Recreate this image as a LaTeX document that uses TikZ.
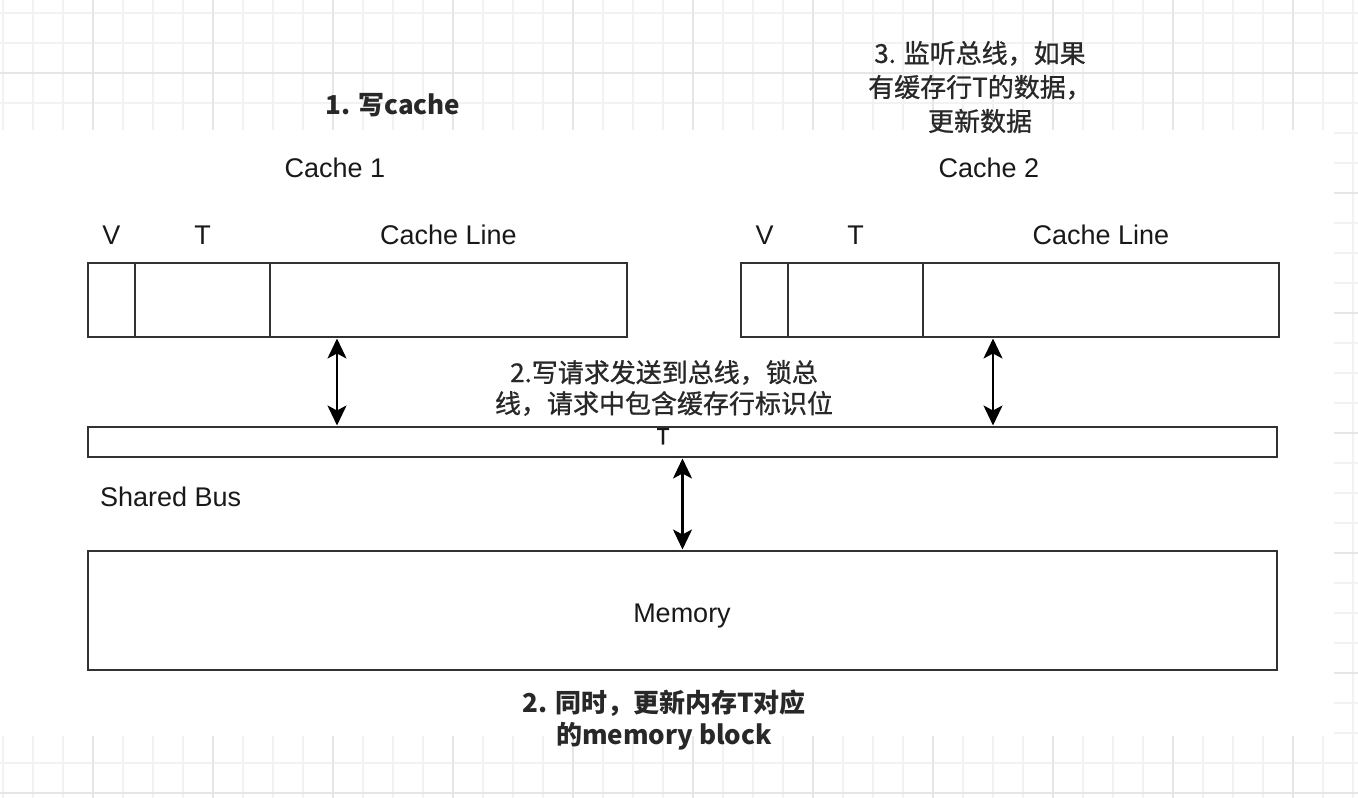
\documentclass[tikz,border=0pt]{standalone}
\usepackage{fontspec}
\setmainfont{Liberation Sans}
\newfontfamily\cjk{Noto Sans CJK SC}
\newfontfamily\cjkmed[FakeBold=0.9]{Noto Sans CJK SC}
\usetikzlibrary{arrows.meta,positioning,calc}
\definecolor{gridlt}{RGB}{242,242,242}
\definecolor{griddk}{RGB}{230,230,230}
\definecolor{boxline}{RGB}{50,50,50}
\definecolor{notetext}{RGB}{40,40,40}
\tikzset{
  cl_cell/.style={rectangle,draw=boxline,line width=1.8pt,fill=white,
    inner sep=0pt,outer sep=0pt,minimum height=74pt},
  cl_lbl/.style={font=\fontsize{27}{30}\selectfont,inner sep=0pt,text=black!90},
  cl_note/.style={font=\cjk\fontsize{26}{33}\selectfont,align=center,
    inner sep=0pt,text=notetext},
  cl_arr/.style={{Stealth[width=19pt,length=20pt,inset=5pt]}-{Stealth[width=19pt,length=20pt,inset=5pt]},
    line width=2.2pt,draw=black,shorten <=1.5pt,shorten >=1.5pt},
}

\begin{document}
\begin{tikzpicture}[x=1pt,y=-1pt]
  \useasboundingbox (0,0) rectangle (1358,798);
  % paper grid behind the screenshot
  \foreach \gx in {3,33,...,1353} \draw[gridlt,line width=1.3pt] (\gx,0) -- (\gx,798);
  \foreach \gy in {13,43,...,793} \draw[gridlt,line width=1.3pt] (0,\gy) -- (1358,\gy);
  \foreach \gx in {93,213,...,1293} \draw[griddk,line width=1.5pt] (\gx,0) -- (\gx,798);
  \foreach \gy in {73,193,...,793} \draw[griddk,line width=1.5pt] (0,\gy) -- (1358,\gy);
  \fill[white] (0,130) rectangle (1334,736);

  % cache 1
  \node (c1_name) [cl_lbl, anchor=base] at (335,177) {Cache 1};
  \node (c1_v) [cl_cell, minimum width=47pt, anchor=north west] at (88,263) {};
  \node (c1_t) [cl_cell, minimum width=135pt, right=0pt of c1_v] {};
  \node (c1_line) [cl_cell, minimum width=357pt, right=0pt of c1_t] {};
  \node (c1_vl) [cl_lbl, above=18pt of c1_v] {V};
  \node (c1_tl) [cl_lbl, above=18pt of c1_t] {T};
  \node (c1_ll) [cl_lbl, above=18pt of c1_line] {Cache Line};

  % cache 2
  \node (c2_name) [cl_lbl, anchor=base] at (989,177) {Cache 2};
  \node (c2_v) [cl_cell, minimum width=47pt, anchor=north west] at (741,263) {};
  \node (c2_t) [cl_cell, minimum width=135pt, right=0pt of c2_v] {};
  \node (c2_line) [cl_cell, minimum width=356pt, right=0pt of c2_t] {};
  \node (c2_vl) [cl_lbl, above=18pt of c2_v] {V};
  \node (c2_tl) [cl_lbl, above=18pt of c2_t] {T};
  \node (c2_ll) [cl_lbl, above=18pt of c2_line] {Cache Line};

  % bus and memory
  \node (bus) [cl_cell, minimum width=1189pt, minimum height=30pt,
    anchor=north west] at (88,427) {};
  \node (bus_t) [cl_lbl, font=\cjkmed\fontsize{22}{24}\selectfont, anchor=north] at (663,428) {T};
  \node (bus_name) [cl_lbl, anchor=base west] at (100,506) {Shared Bus};
  \node (mem) [cl_cell, minimum width=1189pt, minimum height=119pt,
    anchor=north west] at (88,551) {};
  \node (mem_name) [cl_lbl, anchor=base] at (682,622) {Memory};

  % notes
  \node (n1) [cl_note, font=\cjk\bfseries\fontsize{26}{33}\selectfont] at (393,105)
    {1. 写cache};
  \node (n3) [cl_note, font=\cjkmed\fontsize{26}{34}\selectfont] at (980,87)
    {3. 监听总线，如果\\有缓存行T的数据，\\更新数据};
  \node (n2a) [cl_note, font=\cjkmed\fontsize{26}{31}\selectfont] at (664,388)
    {2.写请求发送到总线，锁总\\线，请求中包含缓存行标识位};
  \node (n2b) [cl_note, font=\cjk\bfseries\fontsize{26}{32}\selectfont] at (664,720)
    {2. 同时，更新内存T对应\\的memory block};

  % links
  \coordinate (a1_top) at ([xshift=67pt]c1_line.south west);
  \coordinate (a1_bot) at (a1_top |- bus.north);
  \coordinate (a2_top) at ([xshift=70pt]c2_line.south west);
  \coordinate (a2_bot) at (a2_top |- bus.north);
  \draw[cl_arr] (a1_top) -- (a1_bot);
  \draw[cl_arr] (a2_top) -- (a2_bot);
  \draw[cl_arr] (bus.south) -- (mem.north);
\end{tikzpicture}
\end{document}
